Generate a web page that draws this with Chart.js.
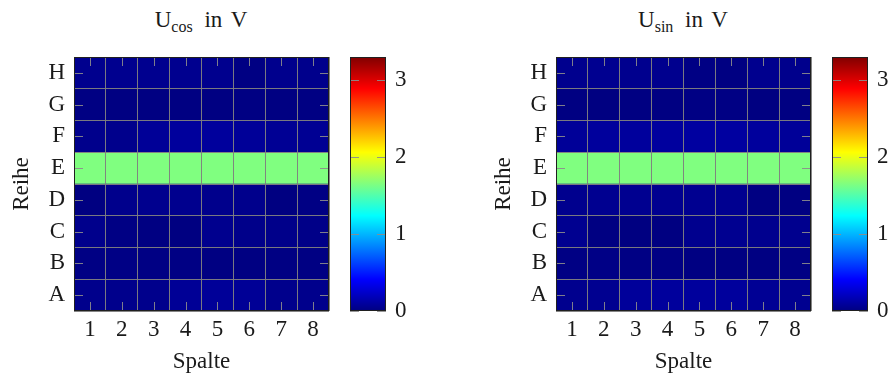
<!DOCTYPE html>
<html><head><meta charset="utf-8">
<script src="https://cdn.jsdelivr.net/npm/chart.js@4.4.1/dist/chart.umd.min.js"></script>
<style>
html,body{margin:0;padding:0;background:#fff;}
body{width:893px;height:381px;position:relative;overflow:hidden;font-family:'Liberation Serif',serif;color:#1a1a1a;}
canvas{position:absolute;top:0;display:block;}
.title{position:absolute;top:8px;font-size:23px;line-height:23px;white-space:nowrap;transform:translateX(-50%);word-spacing:3px;}
.title sub{font-size:16px;vertical-align:-5px;line-height:0;margin-right:3px;}
</style></head><body>
<div class="title" style="left:201px">U<sub>cos</sub> in V</div>
<div class="title" style="left:683px">U<sub>sin</sub> in V</div>
<canvas id="h1" width="335" height="381" style="left:0px"></canvas>
<canvas id="c1" width="90" height="381" style="left:338px"></canvas>
<canvas id="h2" width="335" height="381" style="left:482px"></canvas>
<canvas id="c2" width="90" height="381" style="left:820px"></canvas>
<script>
// ---- data ----
const rows = ['A','B','C','D','E','F','G','H'];
const cols = ['1','2','3','4','5','6','7','8'];
// values in V, rows A..H, columns 1..8
const uCos = [
  [0.040,0.040,0.040,0.070,0.078,0.070,0.040,0.040], // A
  [0.012,0.015,0.012,0.012,0.008,0.006,0.010,0.010], // B
  [0.040,0.012,0.006,0.002,0.045,0.032,0.032,0.026], // C
  [0.003,0.040,0.045,0.045,0.040,0.038,0.002,0.012], // D
  [1.650,1.650,1.650,1.650,1.650,1.650,1.650,1.650], // E
  [0.040,0.040,0.075,0.090,0.090,0.078,0.065,0.062], // F
  [0.010,0.008,0.005,0.006,0.008,0.010,0.005,0.010], // G
  [0.045,0.048,0.048,0.048,0.045,0.010,0.042,0.040]  // H
];
const uSin = [
  [0.045,0.052,0.084,0.091,0.091,0.091,0.065,0.052], // A
  [0.013,0.019,0.013,0.013,0.006,0.006,0.006,0.013], // B
  [0.052,0.006,0.002,0.002,0.045,0.052,0.045,0.045], // C
  [0.045,0.052,0.052,0.052,0.052,0.052,0.006,0.006], // D
  [1.650,1.650,1.650,1.650,1.650,1.650,1.650,1.650], // E
  [0.078,0.091,0.091,0.097,0.104,0.104,0.091,0.078], // F
  [0.006,0.002,0.006,0.006,0.013,0.013,0.002,0.006], // G
  [0.045,0.052,0.045,0.045,0.013,0.006,0.045,0.039]  // H
];
const colorMin = 0, colorMax = 3.3;
const colorTicks = [0,1,2,3];

// pgfplots "jet" colormap
const jetStops = [[0,[0,0,128]],[1/8,[0,0,255]],[3/8,[0,255,255]],[5/8,[255,255,0]],[7/8,[255,0,0]],[1,[128,0,0]]];
function jet(v){
  let t = (v-colorMin)/(colorMax-colorMin);
  t = Math.max(0,Math.min(1,t));
  for(let i=1;i<jetStops.length;i++){
    const [p1,c1]=jetStops[i-1],[p2,c2]=jetStops[i];
    if(t<=p2){
      const f=(t-p1)/(p2-p1);
      const c=c1.map((a,k)=>Math.round(a+(c2[k]-a)*f));
      return `rgb(${c[0]},${c[1]},${c[2]})`;
    }
  }
  return 'rgb(128,0,0)';
}

const FONT = {family:"'Liberation Serif', serif", size:23};
const TXT = '#1a1a1a';
const GRID = 'rgba(128,128,128,0.95)';
const TICKC = 'rgba(140,140,140,0.9)';
const FRAME = '#202020';
const TL = 9;

Chart.defaults.animation = false;
Chart.defaults.responsive = false;
Chart.defaults.events = [];

const framePlugin = {
  id:'frame',
  afterDraw(chart, args, opts){
    const {ctx, chartArea:a} = chart;
    ctx.save();
    ctx.lineWidth = 1;
    ctx.strokeStyle = TICKC;
    ctx.beginPath();
    if(opts.heat){
      const xs = chart.scales.x, ys = chart.scales.y;
      cols.forEach((c,i)=>{
        const px = Math.round(xs.getPixelForValue(i))+0.5;
        ctx.moveTo(px,a.top); ctx.lineTo(px,a.top+TL);
        ctx.moveTo(px,a.bottom); ctx.lineTo(px,a.bottom-TL);
      });
      rows.forEach((r,i)=>{
        const py = Math.round(ys.getPixelForValue(i+0.5))+0.5;
        ctx.moveTo(a.left,py); ctx.lineTo(a.left+TL,py);
        ctx.moveTo(a.right,py); ctx.lineTo(a.right-TL,py);
      });
    } else {
      const ys = chart.scales.y;
      colorTicks.forEach(v=>{
        const py = Math.round(ys.getPixelForValue(v))+0.5;
        ctx.moveTo(a.left,py); ctx.lineTo(a.left+TL,py);
        ctx.moveTo(a.right,py); ctx.lineTo(a.right-TL,py);
      });
    }
    ctx.stroke();
    ctx.strokeStyle = FRAME;
    ctx.strokeRect(Math.round(a.left)+0.5, Math.round(a.top)+0.5, Math.round(a.right-a.left)-1, Math.round(a.bottom-a.top)-1);
    ctx.restore();
  }
};

function heatmap(id, values){
  new Chart(document.getElementById(id), {
    type:'bar',
    data:{
      labels: cols,
      datasets: rows.map((r,i)=>({
        label: r,
        data: values[i].map(()=>[i, i+1]),
        backgroundColor: values[i].map(jet),
        borderWidth: 0,
        barPercentage: 1,
        categoryPercentage: 1,
        grouped: false
      }))
    },
    options:{
      layout:{padding:{top:57, right:6, bottom:0, left:0}},
      plugins:{legend:{display:false}, tooltip:{enabled:false}, frame:{heat:true}},
      scales:{
        x:{
          type:'category', offset:true,
          grid:{offset:true, color:GRID, lineWidth:1, drawTicks:false, z:1},
          border:{display:false},
          ticks:{font:FONT, color:TXT, padding:5, autoSkip:false, maxRotation:0},
          title:{display:true, text:'Spalte', font:FONT, color:TXT, padding:{top:0,bottom:5}},
          afterFit(s){ s.height = 70; }
        },
        y:{
          type:'linear', min:0, max:rows.length,
          afterBuildTicks(s){ s.ticks = rows.map((r,i)=>({value:i})).concat([{value:rows.length}]); },
          grid:{color:GRID, lineWidth:1, drawTicks:false, z:1},
          border:{display:false},
          ticks:{font:FONT, color:TXT, padding:9, autoSkip:false, labelOffset:-16,
                 callback:(v)=> rows[v] !== undefined ? rows[v] : ''},
          title:{display:true, text:'Reihe', font:FONT, color:TXT, padding:{top:8,bottom:0}},
          afterFit(s){ s.width = 74; }
        }
      }
    },
    plugins:[framePlugin]
  });
}

function colorbar(id){
  new Chart(document.getElementById(id), {
    type:'bar',
    data:{
      labels:[''],
      datasets:[{
        data:[[colorMin, colorMax]],
        borderWidth:0, barPercentage:1, categoryPercentage:1,
        backgroundColor(c){
          const ch = c.chart;
          if(!ch.chartArea) return 'rgb(0,0,128)';
          const ys = ch.scales.y;
          const g = ch.ctx.createLinearGradient(0, ys.getPixelForValue(colorMin), 0, ys.getPixelForValue(colorMax));
          jetStops.forEach(([p,c])=>g.addColorStop(p, `rgb(${c[0]},${c[1]},${c[2]})`));
          return g;
        }
      }]
    },
    options:{
      layout:{padding:{top:57, right:0, bottom:70, left:12}},
      plugins:{legend:{display:false}, tooltip:{enabled:false}, frame:{heat:false}},
      scales:{
        x:{display:false},
        y:{
          type:'linear', position:'right', min:colorMin, max:colorMax,
          afterBuildTicks(s){ s.ticks = colorTicks.map(v=>({value:v})); },
          grid:{display:false, drawTicks:false},
          border:{display:false},
          ticks:{font:FONT, color:TXT, padding:9, autoSkip:false},
          afterFit(s){ s.width = 42; }
        }
      }
    },
    plugins:[framePlugin]
  });
}

heatmap('h1', uCos);
colorbar('c1');
heatmap('h2', uSin);
colorbar('c2');
</script>
</body></html>
